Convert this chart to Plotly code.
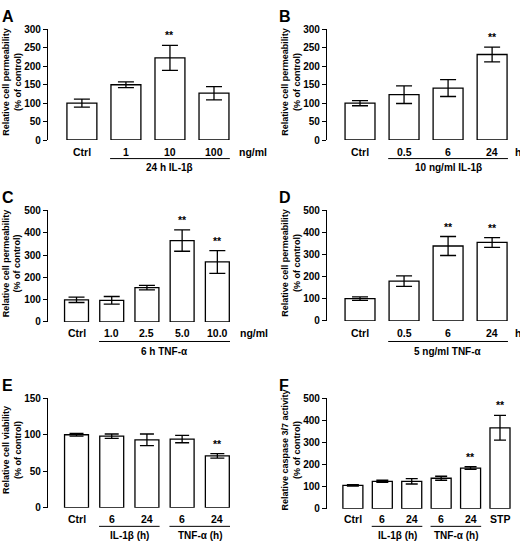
import numpy as np
import plotly.graph_objects as go

# Panel data

A_labels = ["Ctrl", "1", "10", "100"]
A_vals = [100, 150, 223, 127]
A_err = [11, 8, 34, 18]
A_sig = [False, False, True, False]

B_labels = ["Ctrl", "0.5", "6", "24"]
B_vals = [100, 123, 141, 232]
B_err = [7, 24, 23, 20]
B_sig = [False, False, False, True]

C_labels = ["Ctrl", "1.0", "2.5", "5.0", "10.0"]
C_vals = [99, 97, 154, 365, 269]
C_err = [12, 17, 10, 48, 51]
C_sig = [False, False, False, True, True]

D_labels = ["Ctrl", "0.5", "6", "24"]
D_vals = [101, 180, 339, 355]
D_err = [8, 24, 43, 22]
D_sig = [False, False, True, True]

E_labels = ["Ctrl", "6", "24", "6", "24"]
E_vals = [100, 98, 93, 94, 71]
E_err = [2, 3, 8, 5, 3]
E_sig = [False, False, False, False, True]

F_labels = ["Ctrl", "6", "24", "6", "24", "STP"]
F_vals = [106, 124, 124, 138, 184, 366]
F_err = [3, 5, 12, 9, 6, 56]
F_sig = [False, False, False, False, True, True]

W, H = 520, 548
FONT = "Liberation Sans, Arial, sans-serif"


def px(x):
    return x / W


def py(y):
    return 1 - y / H


fig = go.Figure()


def add_panel(n, letter, labels, vals, err, sig, ymax, dtick, xdom, xrange, ydom,
              ytitle, capw, unit, groups, tick_y, line_y, group_y):
    xa = "x" if n == 1 else f"x{n}"
    ya = "y" if n == 1 else f"y{n}"
    pos = np.arange(len(labels))
    fig.add_trace(go.Bar(
        x=pos, y=vals, xaxis=xa, yaxis=ya, width=0.68,
        marker=dict(color="white", line=dict(color="black", width=1.3)),
        error_y=dict(type="data", array=err, color="black", thickness=1.3, width=capw),
        showlegend=False, hoverinfo="skip",
    ))
    key = "" if n == 1 else str(n)
    fig.layout["xaxis" + key] = dict(
        domain=[px(xdom[0]), px(xdom[1])], range=xrange, anchor=ya,
        showline=False, showgrid=False, zeroline=False, ticks="",
        tickvals=pos, ticktext=labels, showticklabels=False,
    )
    fig.layout["yaxis" + key] = dict(
        domain=[py(ydom[1]), py(ydom[0])], range=[0, ymax], anchor=xa, dtick=dtick,
        showline=True, linecolor="black", linewidth=1.3, ticks="outside",
        ticklen=4, tickwidth=1.3, tickcolor="black", showgrid=False, zeroline=False,
        tickfont=dict(family=FONT, size=10, color="black", weight="bold"),
    )
    # category labels
    for p, lab in zip(pos, labels):
        fig.add_annotation(x=p, y=py(tick_y), xref=xa, yref="paper", text=lab,
                           showarrow=False, yanchor="middle",
                           font=dict(family=FONT, size=10.5, color="black", weight="bold"))
    # significance stars
    for p, v, e, s in zip(pos, vals, err, sig):
        if s:
            fig.add_annotation(x=p, y=v + e, xref=xa, yref=ya, text="**",
                               showarrow=False, yanchor="bottom", yshift=2,
                               font=dict(family=FONT, size=10.5, color="black", weight="bold"))
    # group underline and label
    for g0, g1, gtext in groups:
        fig.add_shape(type="line", xref=xa, yref="paper", x0=g0 - 0.36, x1=g1 + 0.36,
                      y0=py(line_y), y1=py(line_y), line=dict(color="black", width=1))
        fig.add_annotation(x=(g0 + g1) / 2, y=py(group_y), xref=xa, yref="paper",
                           text=gtext, showarrow=False, yanchor="middle",
                           font=dict(family=FONT, size=10, color="black", weight="bold"))
    if unit:
        fig.add_annotation(x=px(unit[0]), y=py(tick_y), xref="paper", yref="paper",
                           text=unit[1], showarrow=False, xanchor="left", yanchor="middle",
                           font=dict(family=FONT, size=10.5, color="black", weight="bold"))
    # y title
    fig.add_annotation(x=px(xdom[0] - 36), y=py((ydom[0] + ydom[1]) / 2 - 3),
                       xref="paper", yref="paper", text=ytitle, textangle=-90,
                       showarrow=False, xanchor="center", yanchor="middle",
                       font=dict(family=FONT, size=9, color="black", weight="bold"))
    # panel letter
    lx = 0 if xdom[0] < 200 else 277
    fig.add_annotation(x=px(lx), y=py(ydom[0] - 24), xref="paper", yref="paper",
                       text=letter, showarrow=False, xanchor="left", yanchor="top",
                       font=dict(family=FONT, size=16, color="black", weight="bold"))


perm = "Relative cell permeability<br>(% of control)"

add_panel(1, "A", A_labels, A_vals, A_err, A_sig, 300, 50, (48, 236), [-0.77, 3.5],
          (24, 137), perm, 8, (237, "ng/ml"), [(1, 3, "24 h IL-1β")], 149, 156, 165)
add_panel(2, "B", B_labels, B_vals, B_err, B_sig, 300, 50, (327, 515), [-0.75, 3.52],
          (24, 137), perm, 8, (513, "h"), [(1, 3, "10 ng/ml IL-1β")], 149, 156, 165)
add_panel(3, "C", C_labels, C_vals, C_err, C_sig, 500, 100, (48, 236), [-0.81, 4.53],
          (209, 323), perm, 8, (238, "ng/ml"), [(1, 4, "6 h TNF-α")], 334, 343, 353)
add_panel(4, "D", D_labels, D_vals, D_err, D_sig, 500, 100, (327, 515), [-0.75, 3.52],
          (209, 322), perm, 8, (513, "h"), [(1, 3, "5 ng/ml TNF-α")], 334, 343, 353)
add_panel(5, "E", E_labels, E_vals, E_err, E_sig, 150, 50, (48, 236), [-0.81, 4.53],
          (401, 513), "Relative cell viability<br>(% of control)", 7, None,
          [(1, 2, "IL-1β (h)"), (3, 4, "TNF-α (h)")], 524, 532, 541)
add_panel(6, "F", F_labels, F_vals, F_err, F_sig, 500, 100, (327, 515), [-0.88, 5.51],
          (401, 514), "Relative caspase 3/7 activity<br>(% of control)", 6, None,
          [(1, 2, "IL-1β (h)"), (3, 4, "TNF-α (h)")], 524, 532, 541)

fig.update_layout(
    width=W, height=H,
    margin=dict(l=0, r=0, t=0, b=0),
    plot_bgcolor="white", paper_bgcolor="white",
)
fig.write_html("out.html", config={"displayModeBar": False},
               post_script="document.body.style.margin='0';document.body.style.overflow='hidden';")
